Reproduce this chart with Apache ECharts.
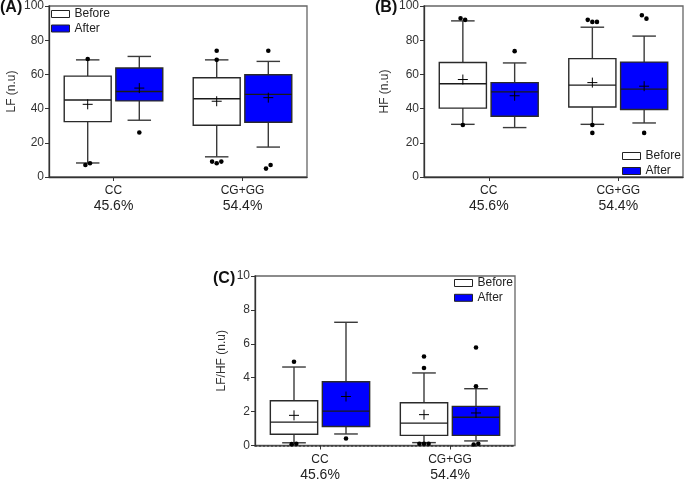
<!DOCTYPE html>
<html>
<head>
<meta charset="utf-8">
<script src="https://cdn.jsdelivr.net/npm/echarts@6/dist/echarts.min.js"></script>
<style>
html,body{margin:0;padding:0;background:#fff;}
#c{width:685px;height:482px;}
</style>
</head>
<body>
<div id="c"></div>
<script>
// ---- data ----
const categories = ['CC', 'CG+GG'];
const frequencies = ['45.6%', '54.4%'];
const seriesNames = ['Before', 'After'];

// box stats: [min whisker, Q1, median, Q3, max whisker]
const lfBefore = [[8.2, 32.4, 45.0, 59.0, 68.5], [11.8, 30.3, 45.8, 58.0, 68.5]];
const lfAfter = [[33.2, 44.5, 50.0, 63.7, 70.5], [17.5, 32.0, 48.3, 59.8, 67.6]];
const lfBeforeMean = [42.5, 44.3];
const lfAfterMean = [52.0, 46.4];
const lfBeforeOutliers = [[69, 7, 8], [73.8, 68.5, 9, 8, 9]];
const lfAfterOutliers = [[26], [73.8, 4.9, 7]];

const hfBefore = [[30.8, 40.3, 54.5, 67.0, 91.3], [30.8, 40.9, 53.7, 69.2, 87.6]];
const hfAfter = [[28.9, 35.5, 49.8, 55.2, 66.7], [31.6, 39.5, 51.4, 67.2, 82.4]];
const hfBeforeMean = [57.0, 55.2];
const hfAfterMean = [47.5, 53.1];
const hfBeforeOutliers = [[92.8, 91.9, 30.4], [91.9, 90.7, 90.7, 30.4, 25.8]];
const hfAfterOutliers = [[73.6], [94.6, 92.6, 25.8]];

const ratioBefore = [[0.16, 0.66, 1.38, 2.64, 4.63], [0.17, 0.60, 1.32, 2.52, 4.28]];
const ratioAfter = [[0.68, 1.12, 2.03, 3.76, 7.27], [0.27, 0.60, 1.67, 2.31, 3.35]];
const ratioBeforeMean = [1.78, 1.82];
const ratioAfterMean = [2.89, 1.92];
const ratioBeforeOutliers = [[4.94, 0.08, 0.1], [5.25, 4.57, 0.1, 0.1, 0.1]];
const ratioAfterOutliers = [[0.41], [5.78, 3.49, 0.06, 0.1]];

const yTicksA = {min: 0, max: 100, interval: 20};
const yTicksC = {min: 0, max: 10, interval: 2};

// ---- rendering ----
const FONT = '"Liberation Sans", Arial, sans-serif';
const BLUE = '#0000ff';

function boxRenderer(side, fill, outliers) {
  return function (params, api) {
    const cat = api.value(0);
    const band = api.size([1, 0])[0];
    const cx = api.coord([cat, 0])[0] + side * band * 0.2;
    const hw = band * 0.182;
    const cap = hw * 0.5;
    const y = v => api.coord([cat, v])[1];
    const yMin = y(api.value(1)), yQ1 = y(api.value(2)), yMed = y(api.value(3)),
      yQ3 = y(api.value(4)), yMax = y(api.value(5)), yMean = y(api.value(6));
    const wStyle = {stroke: '#3a3a3a', lineWidth: 1.4};
    const ch = [];
    const line = (x1, y1, x2, y2, st) => ch.push({type: 'line', shape: {x1, y1, x2, y2}, style: st});
    line(cx, yQ3, cx, yMax, wStyle);
    line(cx, yQ1, cx, yMin, wStyle);
    line(cx - cap, yMax, cx + cap, yMax, wStyle);
    line(cx - cap, yMin, cx + cap, yMin, wStyle);
    ch.push({type: 'rect', shape: {x: cx - hw, y: yQ3, width: hw * 2, height: yQ1 - yQ3},
      style: {fill: fill, stroke: '#2a2a2a', lineWidth: 1.4}});
    line(cx - hw, yMed, cx + hw, yMed, {stroke: '#1a1a1a', lineWidth: 1.4});
    line(cx - 5, yMean, cx + 5, yMean, {stroke: '#000', lineWidth: 1});
    line(cx, yMean - 5, cx, yMean + 5, {stroke: '#000', lineWidth: 1});
    // outliers, spread horizontally when overlapping
    const pts = (outliers[params.dataIndex] || []).map(v => y(v));
    const groups = [];
    pts.forEach(py => {
      const g = groups.find(gr => Math.abs(gr[0] - py) < 6);
      if (g) g.push(py); else groups.push([py]);
    });
    groups.forEach(g => {
      g.forEach((py, k) => {
        const px = cx + (k - (g.length - 1) / 2) * 4.6;
        ch.push({type: 'circle', shape: {cx: px, cy: py, r: 2.3}, style: {fill: '#000'}});
      });
    });
    return {type: 'group', children: ch};
  };
}

function makeSeries(gi, name, side, fill, stats, means, outliers) {
  return {
    type: 'custom', name: name, xAxisIndex: gi, yAxisIndex: gi,
    itemStyle: {color: fill, borderColor: '#2a2a2a', borderWidth: 1},
    encode: {x: 0, y: [1, 2, 3, 4, 5, 6]},
    renderItem: boxRenderer(side, fill, outliers),
    data: categories.map((c, i) => [i].concat(stats[i], [means[i]])),
    clip: false, silent: true, animation: false
  };
}

const grids = [
  {left: 49, top: 5, width: 258, height: 172},
  {left: 424, top: 5, width: 259, height: 172},
  {left: 255, top: 276, width: 260, height: 171.5}
];

function xAxisFor(gi, dotted) {
  return {
    type: 'category', gridIndex: gi, data: categories,
    axisLine: {lineStyle: {color: '#333', width: dotted ? 1.6 : 1.3, type: dotted ? [2, 2] : 'solid'}},
    axisTick: {show: true, alignWithLabel: true, length: 4, lineStyle: {color: '#333'}},
    axisLabel: {
      margin: 7, color: '#222', fontFamily: FONT,
      formatter: (v, i) => '{a|' + v + '}\n{p|' + frequencies[i] + '}',
      rich: {a: {fontSize: 12, lineHeight: 14, fontFamily: FONT, color: '#222'},
             p: {fontSize: 14, lineHeight: 17, fontFamily: FONT, color: '#222'}}
    },
    splitLine: {show: false}
  };
}
function yAxisFor(gi, ticks, name, gap) {
  return {
    type: 'value', gridIndex: gi, min: ticks.min, max: ticks.max, interval: ticks.interval,
    name: name, nameLocation: 'middle', nameGap: gap,
    nameTextStyle: {fontSize: 12, color: '#333', fontFamily: FONT},
    axisLine: {show: true, lineStyle: {color: '#333', width: 1.3}},
    axisTick: {show: true, length: 4, lineStyle: {color: '#333'}},
    axisLabel: {fontSize: 12, color: '#333', fontFamily: FONT, margin: 5},
    splitLine: {show: false}
  };
}

const legendBase = {
  orient: 'vertical', itemWidth: 18, itemHeight: 7, padding: 0,
  textStyle: {fontSize: 12, color: '#222', fontFamily: FONT},
  selectedMode: false,
  data: [
    {name: 'Before', icon: 'rect', itemStyle: {color: '#fff', borderColor: '#222', borderWidth: 1}},
    {name: 'After', icon: 'rect', itemStyle: {color: BLUE, borderColor: '#222', borderWidth: 1}}
  ]
};

const option = {
  backgroundColor: '#fff',
  animation: false,
  grid: grids.map(g => Object.assign({show: true, borderColor: '#666', borderWidth: 1.3, backgroundColor: 'transparent'}, g)),
  xAxis: [xAxisFor(0, false), xAxisFor(1, false), xAxisFor(2, true)],
  yAxis: [yAxisFor(0, yTicksA, 'LF (n.u)', 31), yAxisFor(1, yTicksA, 'HF (n.u)', 33), yAxisFor(2, yTicksC, 'LF/HF (n.u)', 27)],
  legend: [
    Object.assign({}, legendBase, {left: 51, top: 8, itemGap: 2.5}),
    Object.assign({}, legendBase, {left: 622, top: 150, itemGap: 3}),
    Object.assign({}, legendBase, {left: 454, top: 277, itemGap: 2.8})
  ],
  title: [
    {text: '(A)', left: 0, top: 0, padding: 0, textStyle: {fontSize: 16, fontWeight: 'bold', color: '#111', fontFamily: FONT}},
    {text: '(B)', left: 375, top: 0, padding: 0, textStyle: {fontSize: 16, fontWeight: 'bold', color: '#111', fontFamily: FONT}},
    {text: '(C)', left: 213, top: 271, padding: 0, textStyle: {fontSize: 16, fontWeight: 'bold', color: '#111', fontFamily: FONT}}
  ],
  series: [
    makeSeries(0, 'Before', -1, '#fff', lfBefore, lfBeforeMean, lfBeforeOutliers),
    makeSeries(0, 'After', 1, BLUE, lfAfter, lfAfterMean, lfAfterOutliers),
    makeSeries(1, 'Before', -1, '#fff', hfBefore, hfBeforeMean, hfBeforeOutliers),
    makeSeries(1, 'After', 1, BLUE, hfAfter, hfAfterMean, hfAfterOutliers),
    makeSeries(2, 'Before', -1, '#fff', ratioBefore, ratioBeforeMean, ratioBeforeOutliers),
    makeSeries(2, 'After', 1, BLUE, ratioAfter, ratioAfterMean, ratioAfterOutliers)
  ]
};

const chart = echarts.init(document.getElementById('c'), null, {renderer: 'canvas'});
chart.setOption(option);
</script>
</body>
</html>
